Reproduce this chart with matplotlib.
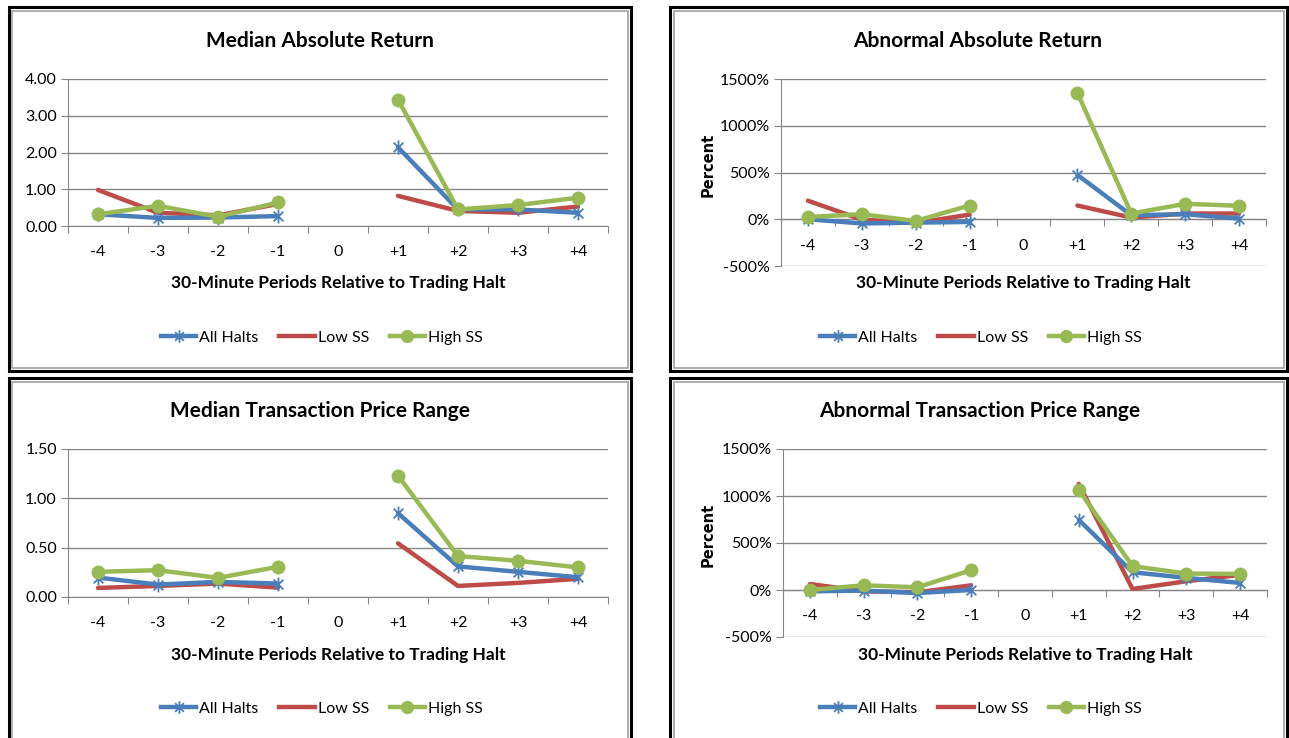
import numpy as np
import matplotlib
matplotlib.use("Agg")
import matplotlib.pyplot as plt
from matplotlib.patches import Rectangle
from matplotlib.lines import Line2D
from matplotlib.path import Path
from matplotlib.ticker import FixedLocator, FuncFormatter

plt.rcParams['font.family'] = ['Lato', 'DejaVu Sans']

periods = ["-4", "-3", "-2", "-1", "0", "+1", "+2", "+3", "+4"]
nan = np.nan

# Median Absolute Return
mar_all = [0.32, 0.22, 0.23, 0.27, nan, 2.14, 0.45, 0.45, 0.36]
mar_low = [0.98, 0.36, 0.29, 0.60, nan, 0.82, 0.41, 0.36, 0.53]
mar_high = [0.32, 0.55, 0.25, 0.64, nan, 3.44, 0.45, 0.57, 0.77]

# Abnormal Absolute Return (%)
aar_all = [0, -45, -36, -29, nan, 475, 43, 54, 7]
aar_low = [198, -4, -40, 50, nan, 147, 18, 61, 61]
aar_high = [25, 54, -18, 147, nan, 1353, 61, 165, 144]

# Median Transaction Price Range
mtr_all = [0.197, 0.126, 0.153, 0.136, nan, 0.85, 0.31, 0.255, 0.20]
mtr_low = [0.092, 0.112, 0.136, 0.095, nan, 0.544, 0.112, 0.143, 0.184]
mtr_high = [0.255, 0.272, 0.194, 0.306, nan, 1.23, 0.415, 0.367, 0.30]

# Abnormal Transaction Price Range (%)
atr_all = [-14, -7, -32, 0, nan, 746, 189, 129, 75]
atr_low = [64, -14, -25, 50, nan, 1129, 11, 93, 161]
atr_high = [0, 50, 29, 211, nan, 1064, 254, 175, 171]

series_names = ["All Halts", "Low SS", "High SS"]

W, H = 1289, 738
fig = plt.figure(figsize=(W / 100, H / 100), dpi=100)

BLUE = "#4A7EBB"
RED = "#BE4B48"
GREEN = "#98B954"
GRID = "#868686"
LW = 3.2

ast_path = Path([(-0.7, -0.7), (0.7, 0.7), (-0.7, 0.7), (0.7, -0.7), (0, 1.0), (0, -1.0)],
                [Path.MOVETO, Path.LINETO, Path.MOVETO, Path.LINETO, Path.MOVETO, Path.LINETO])


def fbox(l, t, r, b):
    return [l / W, 1 - b / H, (r - l) / W, (b - t) / H]


def border(l, t, r, b):
    fig.patches.append(Rectangle((l / W, 1 - b / H), (r - l) / W, (b - t) / H,
                                 transform=fig.transFigure, fill=False,
                                 edgecolor="black", linewidth=2.2, zorder=0))
    d = 3.5
    fig.patches.append(Rectangle(((l + d) / W, 1 - (b - d) / H), (r - l - 2 * d) / W, (b - t - 2 * d) / H,
                                 transform=fig.transFigure, fill=False,
                                 edgecolor="#A0A0A0", linewidth=1.2, zorder=0))


def panel(box, data, ylim, yticks, fmt, title, title_xy, xlabel_y, legend_xy, pct, ylab_x=None):
    ax = fig.add_axes(fbox(*box))
    x = np.arange(len(periods))
    a, lo, hi = data
    ax.plot(x, lo, color=RED, lw=LW, solid_capstyle="round", zorder=3)
    ax.plot(x, a, color=BLUE, lw=LW, marker=ast_path, markersize=10, markeredgewidth=1.3,
            markeredgecolor=BLUE, solid_capstyle="round", zorder=4)
    ax.plot(x, hi, color=GREEN, lw=LW, marker="o", markersize=9, solid_capstyle="round", zorder=5)
    ax.set_xlim(-0.5, len(periods) - 0.5)
    ax.set_ylim(*ylim)
    ax.set_yticks(yticks)
    ax.yaxis.set_major_formatter(FuncFormatter(fmt))
    ax.grid(axis="y", color=GRID, lw=1.0)
    ax.set_axisbelow(True)
    for s in ["top", "right"]:
        ax.spines[s].set_visible(False)
    ax.spines["left"].set_color(GRID)
    ax.spines["bottom"].set_color(GRID)
    ax.spines["bottom"].set_position(("data", 0))
    ax.xaxis.set_major_locator(FixedLocator(np.arange(-0.5, len(periods), 1.0)))
    ax.xaxis.set_major_formatter(FuncFormatter(lambda v, p: ""))
    ax.set_xticks(x, periods, minor=True)
    ax.tick_params(axis="x", which="major", length=5, color=GRID, direction="out")
    ax.tick_params(axis="x", which="minor", length=0, labelsize=11.5, pad=14)
    ax.tick_params(axis="y", length=5, color=GRID, labelsize=11.5, pad=3)
    ax.set_facecolor("none")
    fig.text(title_xy[0] / W, 1 - title_xy[1] / H, title, ha="center", va="center",
             fontsize=15, fontweight="bold")
    fig.text(((box[0] + box[2]) / 2) / W, 1 - xlabel_y / H,
             "30-Minute Periods Relative to Trading Halt", ha="center", va="center",
             fontsize=12.5, fontweight="bold")
    if pct:
        fig.text(ylab_x / W, 1 - ((box[1] + box[3]) / 2 - 8) / H, "Percent", rotation=90,
                 ha="center", va="center", fontsize=10.5, fontweight="bold",
                 family="DejaVu Sans")
    handles = [Line2D([], [], color=BLUE, lw=LW, marker=ast_path, markersize=9, markeredgewidth=1.3),
               Line2D([], [], color=RED, lw=LW),
               Line2D([], [], color=GREEN, lw=LW, marker="o", markersize=8.5)]
    fig.legend(handles, series_names, loc="center", bbox_to_anchor=(legend_xy[0] / W, 1 - legend_xy[1] / H),
               ncol=3, frameon=False, fontsize=11.5, handlelength=2.2, handletextpad=0.2,
               columnspacing=1.3)
    return ax


num_fmt = lambda v, p: f"{v:.2f}"
pct_fmt = lambda v, p: f"{v:.0f}%"

border(9, 7, 631, 371)
border(670, 7, 1287, 371)
border(9, 378, 631, 745)
border(670, 378, 1287, 745)

panel((68, 79, 608, 226), (mar_all, mar_low, mar_high), (0, 4), [0, 1, 2, 3, 4], num_fmt,
      "Median Absolute Return", (320, 41), 283, (322, 338), False)
panel((781, 79, 1266, 266), (aar_all, aar_low, aar_high), (-500, 1500), [-500, 0, 500, 1000, 1500], pct_fmt,
      "Abnormal Absolute Return", (978, 41), 283, (981, 338), True, ylab_x=708)
panel((68, 449, 608, 597), (mtr_all, mtr_low, mtr_high), (0, 1.5), [0, 0.5, 1.0, 1.5], num_fmt,
      "Median Transaction Price Range", (320, 411), 655, (322, 709), False)
panel((783, 449, 1267, 637), (atr_all, atr_low, atr_high), (-500, 1500), [-500, 0, 500, 1000, 1500], pct_fmt,
      "Abnormal Transaction Price Range", (980, 411), 655, (981, 709), True, ylab_x=708)

fig.savefig("out.png", dpi=100)
